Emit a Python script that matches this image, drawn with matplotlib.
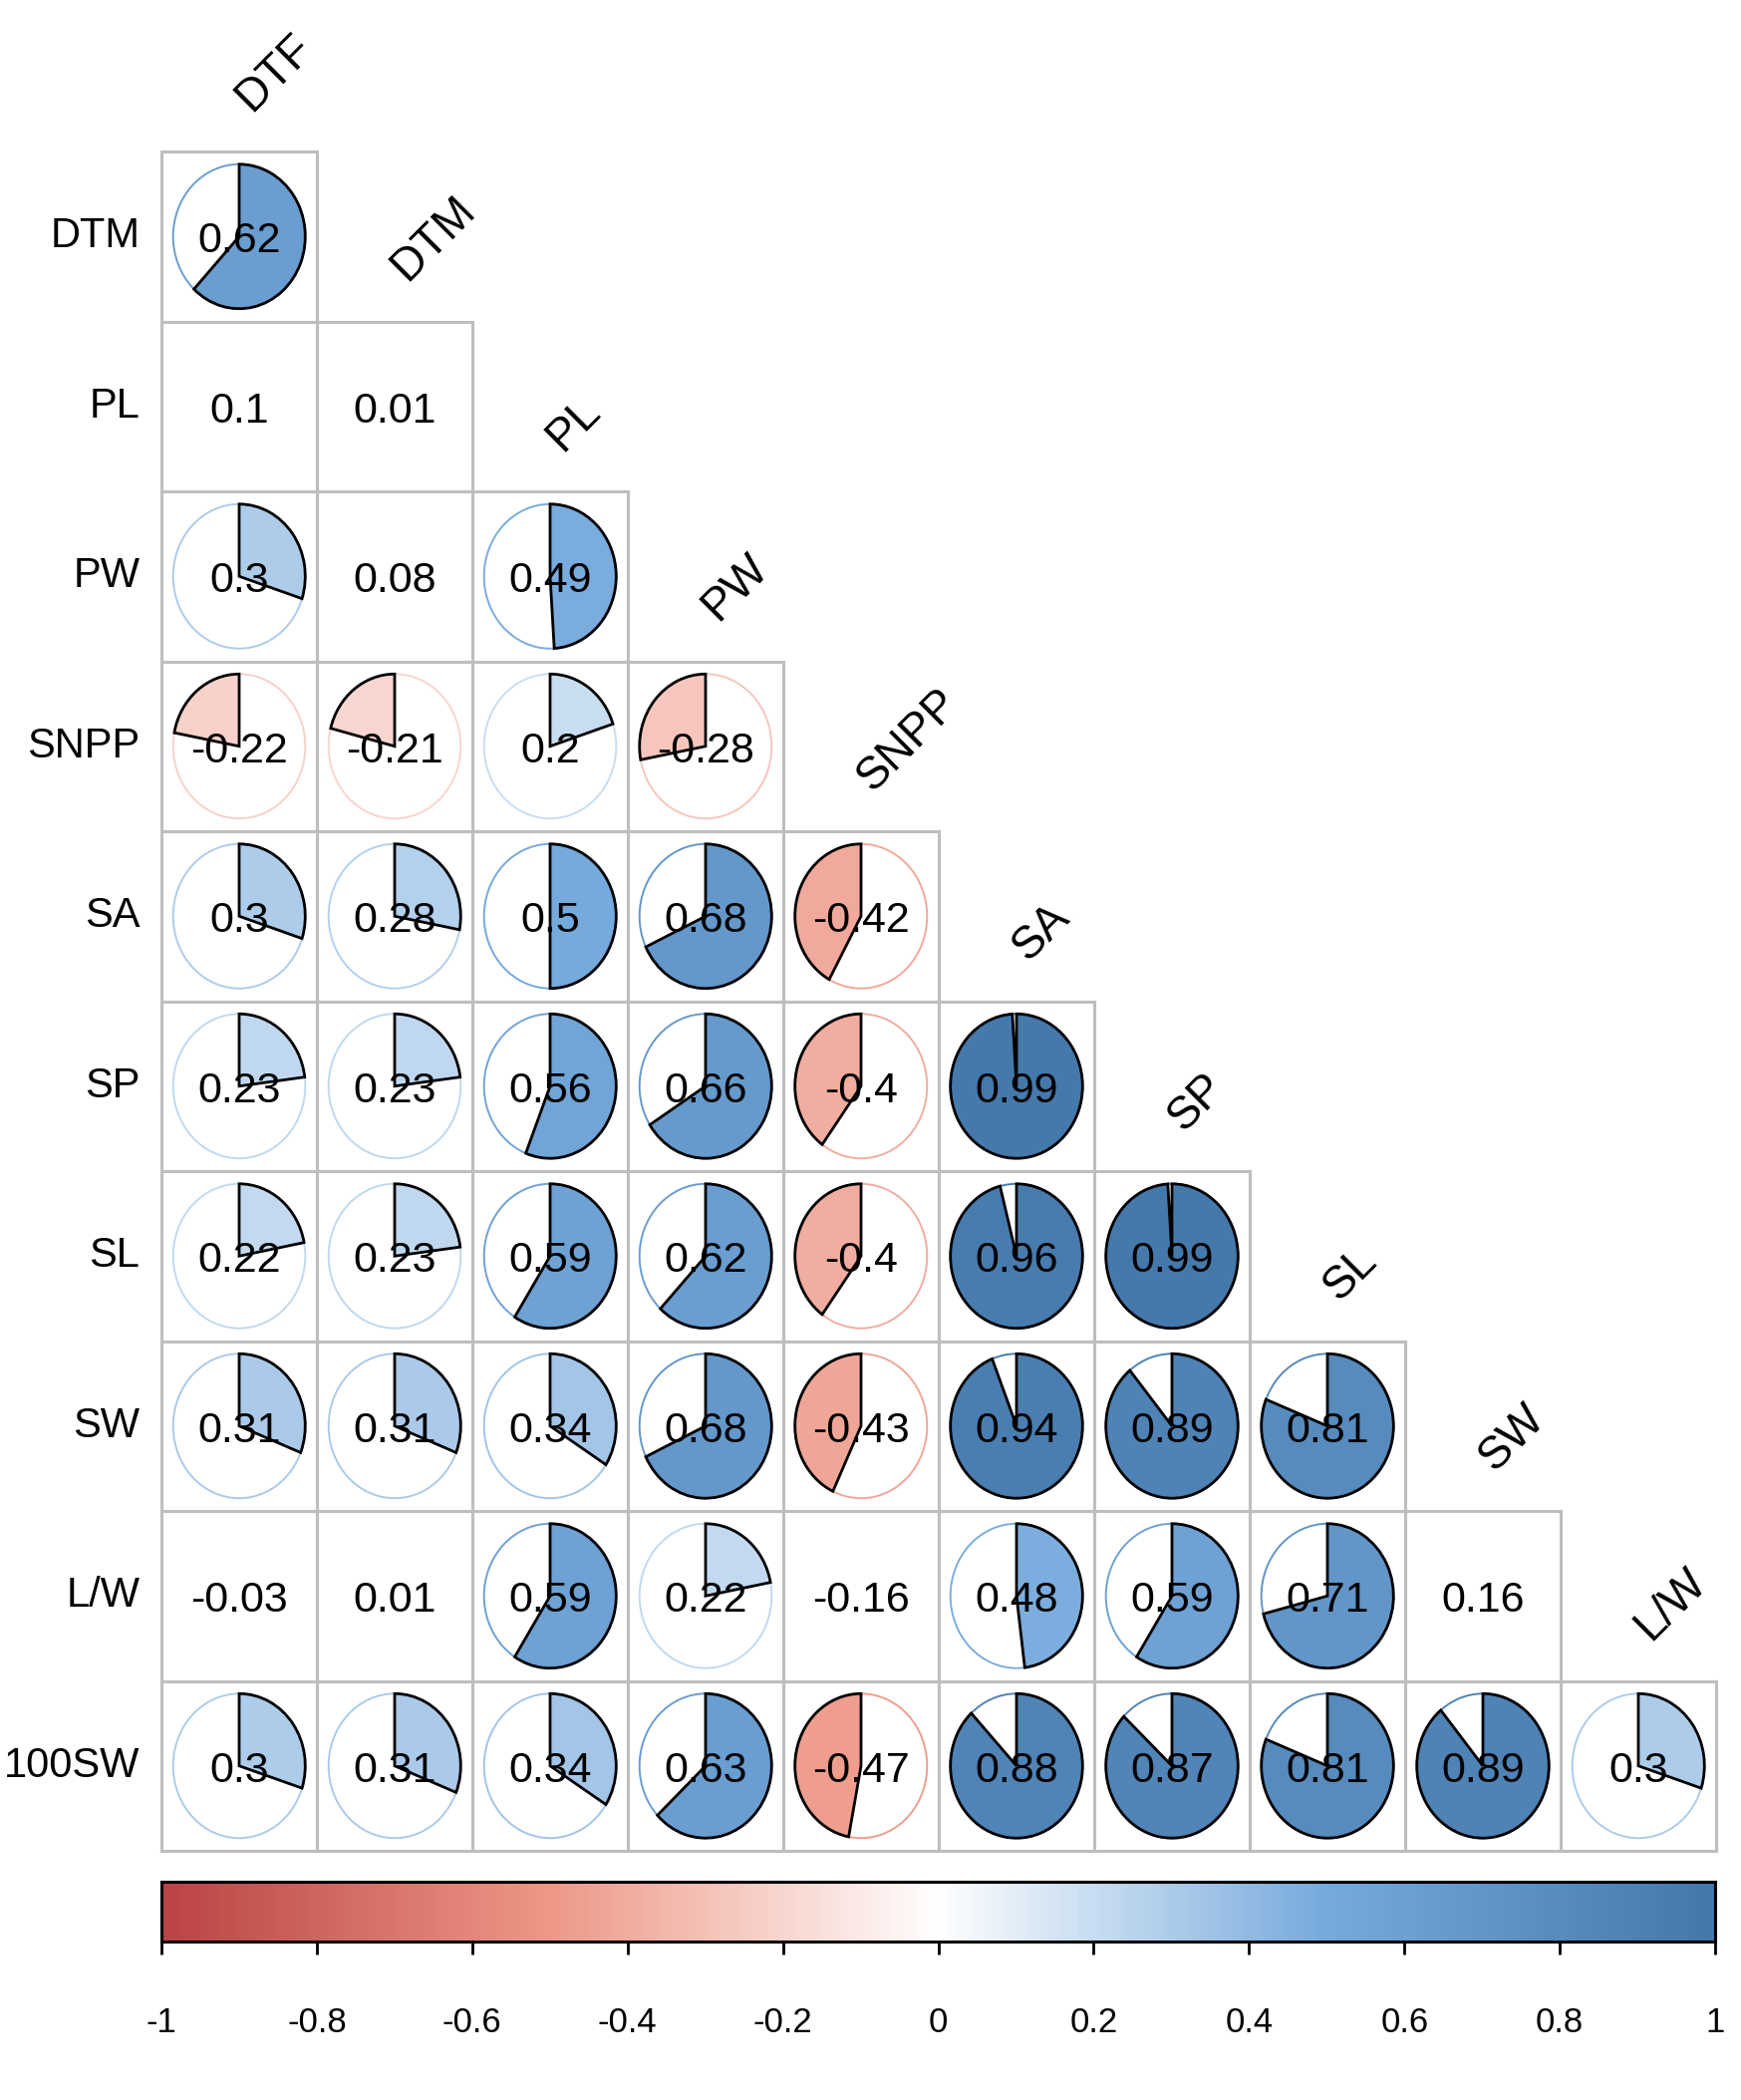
import numpy as np
import matplotlib
matplotlib.use("Agg")
import matplotlib.pyplot as plt
from matplotlib.patches import Wedge, Circle, Rectangle
from matplotlib.colors import LinearSegmentedColormap

plt.rcParams['font.family'] = ['Liberation Sans', 'DejaVu Sans']

variables = ["DTF", "DTM", "PL", "PW", "SNPP", "SA", "SP", "SL", "SW", "L/W", "100SW"]

# lower triangle, one list per row (rows DTM .. 100SW)
corr_rows = [
    [0.62],
    [0.1, 0.01],
    [0.3, 0.08, 0.49],
    [-0.22, -0.21, 0.2, -0.28],
    [0.3, 0.28, 0.5, 0.68, -0.42],
    [0.23, 0.23, 0.56, 0.66, -0.4, 0.99],
    [0.22, 0.23, 0.59, 0.62, -0.4, 0.96, 0.99],
    [0.31, 0.31, 0.34, 0.68, -0.43, 0.94, 0.89, 0.81],
    [-0.03, 0.01, 0.59, 0.22, -0.16, 0.48, 0.59, 0.71, 0.16],
    [0.3, 0.31, 0.34, 0.63, -0.47, 0.88, 0.87, 0.81, 0.89, 0.3],
]

# 1 = pie drawn (significant), 0 = number only
sig_rows = [
    [1],
    [0, 0],
    [1, 0, 1],
    [1, 1, 1, 1],
    [1, 1, 1, 1, 1],
    [1, 1, 1, 1, 1, 1],
    [1, 1, 1, 1, 1, 1, 1],
    [1, 1, 1, 1, 1, 1, 1, 1],
    [0, 0, 1, 1, 0, 1, 1, 1, 0],
    [1, 1, 1, 1, 1, 1, 1, 1, 1, 1],
]

cbar_ticks = [-1, -0.8, -0.6, -0.4, -0.2, 0, 0.2, 0.4, 0.6, 0.8, 1]
cbar_labels = ["-1", "-0.8", "-0.6", "-0.4", "-0.2", "0", "0.2", "0.4", "0.6", "0.8", "1"]

cmap = LinearSegmentedColormap.from_list(
    "corr", ["#BB4444", "#EE9988", "#FFFFFF", "#77AADD", "#4477AA"])

W, H = 1747, 2107
fig = plt.figure(figsize=(W / 100, H / 100), dpi=100)

# grid area in pixels
gl, gr, gt, gb = 162, 1722, 152, 1857
ax = fig.add_axes([gl / W, 1 - gb / H, (gr - gl) / W, (gb - gt) / H])
n = len(corr_rows)
ax.set_xlim(0, n)
ax.set_ylim(n, 0)
ax.axis("off")

rad = 0.425
for i, row in enumerate(corr_rows):
    for j, r in enumerate(row):
        ax.add_patch(Rectangle((j, i), 1, 1, fill=False, ec="#BEBEBE", lw=2.2,
                               zorder=1, clip_on=False))
        cx, cy = j + 0.5, i + 0.5
        if sig_rows[i][j]:
            col = cmap((r + 1) / 2)
            ax.add_patch(Circle((cx, cy), rad, fill=False, ec=col, lw=1.4, zorder=2))
            # y axis is inverted, so angles run clockwise on screen
            if r >= 0:
                w = Wedge((cx, cy), rad, -90, -90 + 360 * r, fc=col, ec="black", lw=2, zorder=3)
            else:
                w = Wedge((cx, cy), rad, -90 + 360 * r, -90, fc=col, ec="black", lw=2, zorder=3)
            ax.add_patch(w)
        ax.text(cx, cy + 0.03, str(r), ha="center", va="center", fontsize=31,
                color="black", zorder=4)

# row labels
for i in range(n):
    ax.text(-0.14, i + 0.5, variables[i + 1], ha="right", va="center",
            fontsize=30, clip_on=False)

# column labels
for j in range(n):
    ax.text(j + 0.58, j - 0.23, variables[j], ha="left", va="baseline",
            rotation=45, rotation_mode="anchor", fontsize=33, clip_on=False)

# colour bar
cl, cr, ct, cb = 162, 1721, 1888, 1948
cax = fig.add_axes([cl / W, 1 - cb / H, (cr - cl) / W, (cb - ct) / H])
grad = np.linspace(-1, 1, 400).reshape(1, -1)
cax.imshow(grad, cmap=cmap, vmin=-1, vmax=1, aspect="auto", extent=[-1, 1, 0, 1])
cax.set_xlim(-1, 1)
cax.set_yticks([])
cax.set_xticks(cbar_ticks)
cax.set_xticklabels(cbar_labels, fontsize=25)
cax.tick_params(axis="x", length=9, width=2, pad=38)
for s in cax.spines.values():
    s.set_linewidth(2.2)
    s.set_color("black")

fig.savefig("out.png", dpi=100)
